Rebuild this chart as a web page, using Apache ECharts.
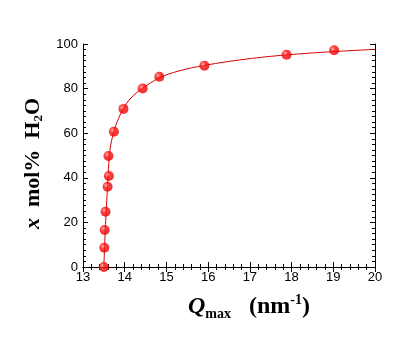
<!DOCTYPE html>
<html><head><meta charset="utf-8">
<script src="https://cdn.jsdelivr.net/npm/echarts@6/dist/echarts.min.js"></script>
<style>html,body{margin:0;padding:0;background:#fff}#c{width:419px;height:347px}</style>
</head><body><div id="c"></div>
<script>
// Measured points (Qmax, x mol% H2O)
const qmax = [13.50, 13.51, 13.52, 13.54, 13.59, 13.62, 13.61, 13.74, 13.97, 14.43, 14.83, 15.91, 17.88, 19.02];
const molPct = [0, 8.6, 16.6, 24.8, 36.0, 40.8, 49.8, 60.7, 70.9, 80.1, 85.3, 90.3, 95.2, 97.2];
// Fitted curve
const fitQ = [13.50, 13.53, 13.57, 13.61, 13.65, 13.74, 13.85, 13.97, 14.15, 14.43, 14.83, 15.3, 15.91, 16.9, 17.88, 19.02, 20.0];
const fitX = [0, 15, 30, 44, 53, 60.7, 66.5, 71, 75.8, 80.1, 84.8, 87.9, 90.4, 93.2, 95.1, 96.6, 97.6];
const xTicks = [13, 14, 15, 16, 17, 18, 19, 20];
const yTicks = [0, 20, 40, 60, 80, 100];

const chart = echarts.init(document.getElementById('c'), null, {renderer: 'canvas'});
const pts = qmax.map((q, i) => [q, molPct[i]]);
const fit = fitQ.map((q, i) => [q, fitX[i]]);
const axisLine = {show: true, lineStyle: {color: '#000', width: 1}};
const axisTick = {show: true, inside: true, length: 5, lineStyle: {color: '#000'}};
const xMin = xTicks[0], xMax = xTicks[xTicks.length - 1];
const yMin = yTicks[0], yMax = yTicks[yTicks.length - 1];
const serif = 'Liberation Serif, Times New Roman';
chart.setOption({
  animation: false,
  backgroundColor: '#fff',
  grid: {left: 83, right: 44, top: 44, bottom: 80},
  xAxis: [
    {type: 'value', min: xMin, max: xMax, interval: 1, position: 'bottom',
      axisLine, axisTick, splitLine: {show: false},
      axisLabel: {color: '#000', fontSize: 13, fontFamily: 'Liberation Sans, Arial', margin: 4},
      minorTick: {show: true, splitNumber: 5, length: 3, lineStyle: {color: '#000'}},
      name: '{q|Q}{s|max}{b|   (nm}{p|-1}{b|)}',
      nameLocation: 'middle', nameGap: 26,
      nameTextStyle: {
        padding: [0, 0, 0, 40],
        rich: {
          q: {fontFamily: serif, fontSize: 24, fontWeight: 'bold', fontStyle: 'italic', color: '#000'},
          s: {fontFamily: serif, fontSize: 14, fontWeight: 'bold', color: '#000', padding: [14, 0, 0, 0]},
          b: {fontFamily: serif, fontSize: 24, fontWeight: 'bold', color: '#000'},
          p: {fontFamily: serif, fontSize: 14, fontWeight: 'bold', color: '#000', padding: [0, 0, 14, 0]}
        }
      }
    },
    {type: 'value', min: xMin, max: xMax, interval: 1, position: 'top',
      axisLine, axisTick,
      minorTick: {show: true, splitNumber: 5, length: 3, lineStyle: {color: '#000'}},
      axisLabel: {show: false}, splitLine: {show: false}}
  ],
  yAxis: [
    {type: 'value', min: yMin, max: yMax, interval: 20, position: 'left',
      axisLine, axisTick,
      minorTick: {show: true, splitNumber: 8, length: 3, lineStyle: {color: '#000'}},
      splitLine: {show: false},
      axisLabel: {color: '#000', fontSize: 13, fontFamily: 'Liberation Sans, Arial', margin: 5},
      name: '{i|x}{b|  mol%  H}{s|2}{b|O}',
      nameLocation: 'middle', nameGap: 31, nameRotate: 90,
      nameTextStyle: {
        padding: [0, 16, 0, 0],
        rich: {
          i: {fontFamily: serif, fontSize: 22, fontWeight: 'bold', fontStyle: 'italic', color: '#000'},
          b: {fontFamily: serif, fontSize: 22, fontWeight: 'bold', color: '#000'},
          s: {fontFamily: serif, fontSize: 13, fontWeight: 'bold', color: '#000', padding: [12, 0, 0, 0]}
        }
      }
    },
    {type: 'value', min: yMin, max: yMax, interval: 20, position: 'right',
      axisLine, axisTick,
      minorTick: {show: true, splitNumber: 8, length: 3, lineStyle: {color: '#000'}},
      axisLabel: {show: false}, splitLine: {show: false}}
  ],
  series: [
    {type: 'line', data: fit, smooth: 0.4, showSymbol: false, symbol: 'none',
      lineStyle: {color: '#d40000', width: 1}, xAxisIndex: 0, yAxisIndex: 0, z: 2},
    {type: 'scatter', data: pts, symbol: 'circle', symbolSize: 10, xAxisIndex: 0, yAxisIndex: 0, z: 3,
      itemStyle: {color: {type: 'radial', x: 0.35, y: 0.35, r: 0.75,
        colorStops: [{offset: 0, color: '#ff9a9a'}, {offset: 0.35, color: '#ff0c0c'}, {offset: 1, color: '#dd0000'}]}}}
  ]
});
</script></body></html>
